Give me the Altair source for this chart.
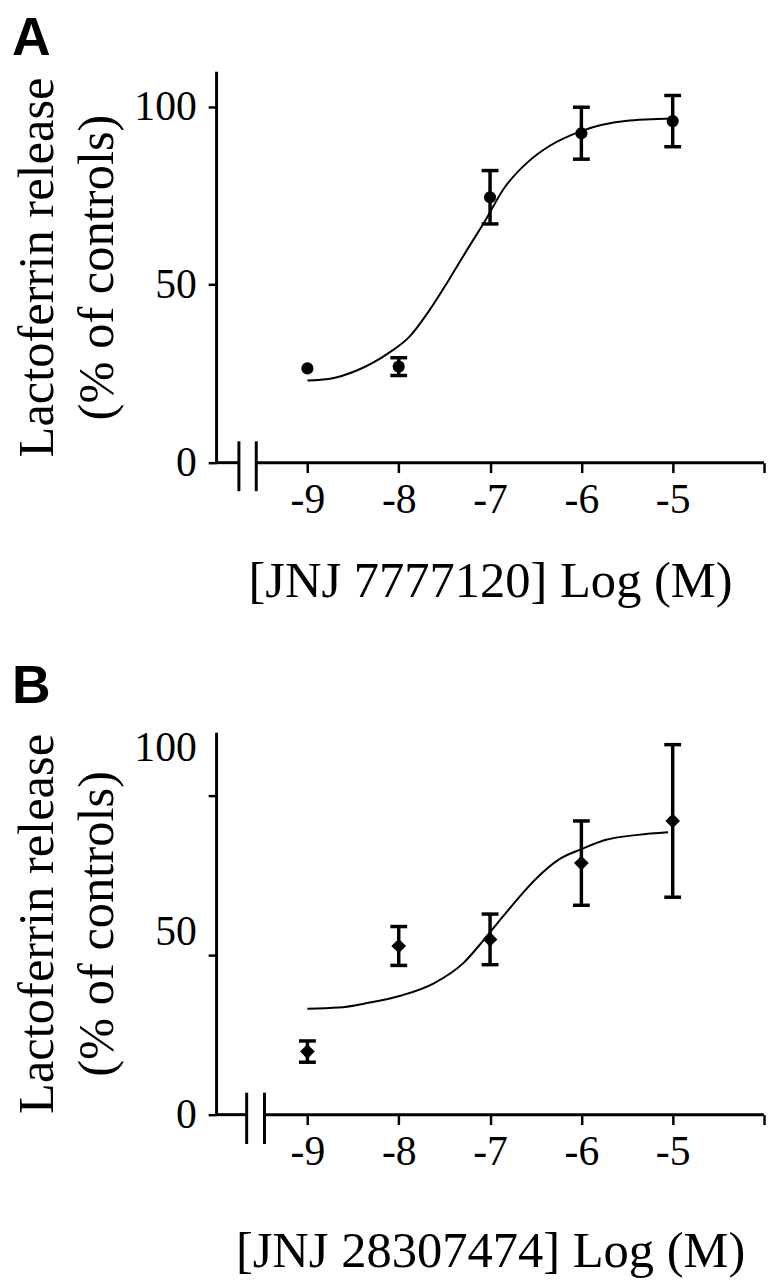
import altair as alt
import pandas as pd

# ---------------- data ----------------
# Panel A: JNJ 7777120
a_x = [-9, -8, -7, -6, -5]
a_y = [26.5, 27.0, 74.6, 92.6, 96.0]
a_err = [0.0, 2.5, 7.5, 7.3, 7.2]
a_curve_x = [-9.0, -8.75, -8.46, -8.1, -7.89, -7.67, -7.46, -7.24, -7.06, -6.85, -6.59, -6.35, -6.0, -5.52, -5.0]
a_curve_y = [23.1, 23.6, 25.9, 31.0, 35.2, 42.6, 51.0, 60.3, 67.7, 77.0, 84.4, 89.0, 93.2, 96.0, 96.7]

# Panel B: JNJ 28307474
b_x = [-9, -8, -7, -6, -5]
b_y = [17.2, 46.0, 47.8, 68.6, 80.1]
b_err = [2.9, 5.3, 6.9, 11.5, 20.8]
b_curve_x = [-9.0, -8.66, -8.33, -7.97, -7.61, -7.29, -7.07, -6.86, -6.64, -6.51, -6.24, -6.0, -5.74, -5.38, -5.05]
b_curve_y = [28.9, 29.2, 30.5, 32.5, 35.9, 41.4, 47.6, 54.0, 60.5, 64.0, 69.7, 72.4, 74.9, 76.3, 77.0]

x_ticks = [-9, -8, -7, -6, -5, -4]
y_labels = [0, 50, 100]
b_tick_marks = [0, 50, 100]          # panel B ticks sit on a different spacing than labels

x_domain = [-10, -4]
a_y_domain = [0, 110]
b_y_domain = [0, 104.3]
b_tick_domain = [0, 120]

a_break = [-9.75, -9.56]             # axis-break marks on the x axis
b_break = [-9.665, -9.47]
break_span = [-8, 6]

SERIF = "Liberation Serif"
SANS = "Liberation Sans"


def make_panel(letter, px, py, perr, cx, cy, ydom, height, xtitle, xtitle_pad,
               brk, shape, msize, title_offset, tick_layer=None):
    pts = pd.DataFrame({"x": px, "y": py, "err": perr,
                        "lo": [v - e for v, e in zip(py, perr)],
                        "hi": [v + e for v, e in zip(py, perr)]})
    curve = pd.DataFrame({"x": cx, "y": cy})
    axis_seg = pd.DataFrame({"x": [x_domain[0], brk[1]], "x2": [brk[0], x_domain[1]], "y": [0, 0]})
    brk_df = pd.DataFrame({"x": brk, "y": [break_span[0]] * 2, "y2": [break_span[1]] * 2})

    xenc = alt.X("x:Q", scale=alt.Scale(domain=x_domain, nice=False, zero=False),
                 axis=alt.Axis(values=x_ticks, labelExpr="datum.value == -4 ? '' : '' + datum.value",
                               domain=False, grid=False, tickSize=10, tickWidth=2.5, tickColor="black",
                               labelFontSize=42, labelFont=SERIF, labelColor="black", labelPadding=7,
                               title=xtitle, titleFont=SERIF, titleFontSize=51, titleFontWeight="normal",
                               titleColor="black", titlePadding=xtitle_pad))
    show_ticks = tick_layer is None
    yaxis = alt.Axis(values=y_labels, grid=False, tickSize=8, tickWidth=2.5, tickColor="black",
                     tickOpacity=1 if show_ticks else 0,
                     domainColor="black", domainWidth=3,
                     labelFontSize=42, labelFont=SERIF, labelColor="black", labelPadding=12,
                     title=["Lactoferrin release", "(% of controls)"], titleFont=SERIF,
                     titleFontSize=51, titleFontWeight="normal", titleColor="black",
                     titleLineHeight=60, titlePadding=11)
    yscale = alt.Scale(domain=ydom, nice=False, zero=False)
    yenc = alt.Y("y:Q", scale=yscale, axis=yaxis)

    line = alt.Chart(curve).mark_line(color="black", strokeWidth=2, interpolate="monotone").encode(x=xenc, y=yenc)
    bars = alt.Chart(pts).mark_rule(color="black", strokeWidth=3.5).encode(
        x=xenc, y=alt.Y("lo:Q", scale=yscale, axis=yaxis), y2="hi")
    cap_lo = alt.Chart(pts).transform_filter("datum.err > 0").mark_tick(
        color="black", orient="horizontal", size=17, thickness=3.5, opacity=1).encode(
        x=xenc, y=alt.Y("lo:Q", scale=yscale, axis=yaxis))
    cap_hi = alt.Chart(pts).transform_filter("datum.err > 0").mark_tick(
        color="black", orient="horizontal", size=17, thickness=3.5, opacity=1).encode(
        x=xenc, y=alt.Y("hi:Q", scale=yscale, axis=yaxis))
    marks = alt.Chart(pts).mark_point(shape=shape, filled=True, color="black", size=msize, opacity=1).encode(x=xenc, y=yenc)
    seg = alt.Chart(axis_seg).mark_rule(color="black", strokeWidth=3).encode(x=xenc, x2="x2", y=yenc)
    brks = alt.Chart(brk_df).mark_rule(color="black", strokeWidth=3).encode(x=xenc, y=yenc, y2="y2")

    inner = alt.layer(seg, brks, line, bars, cap_lo, cap_hi, marks)
    if tick_layer is not None:
        full = alt.layer(inner, tick_layer).resolve_scale(y="independent")
    else:
        full = inner
    return full.properties(
        width=553, height=height,
        title=alt.TitleParams(letter, anchor="start", frame="bounds", font=SANS, fontSize=54,
                              fontWeight="bold", color="black", offset=title_offset, dx=0))


tick_df = pd.DataFrame({"t": b_tick_marks})
b_ticks = alt.Chart(tick_df).mark_point(opacity=0).encode(
    y=alt.Y("t:Q", scale=alt.Scale(domain=b_tick_domain, nice=False, zero=False),
            axis=alt.Axis(orient="left", values=b_tick_marks, labels=False, domain=False, grid=False,
                          tickSize=8, tickWidth=2.5, tickColor="black", title="")))

panel_a = make_panel("A", a_x, a_y, a_err, a_curve_x, a_curve_y, a_y_domain, 395,
                     "[JNJ 7777120] Log (M)", 37, a_break, "circle", 150, 5.5)
panel_b = make_panel("B", b_x, b_y, b_err, b_curve_x, b_curve_y, b_y_domain, 386,
                     "[JNJ 28307474] Log (M)", 55, b_break, "diamond", 220, 13, tick_layer=b_ticks)

chart = alt.vconcat(panel_a, panel_b, spacing=53).properties(
    padding={"left": 3, "top": -2, "right": 0, "bottom": -2}
).configure_view(stroke="transparent")

chart.save("out.html", embed_options={"renderer": "svg", "actions": False})
